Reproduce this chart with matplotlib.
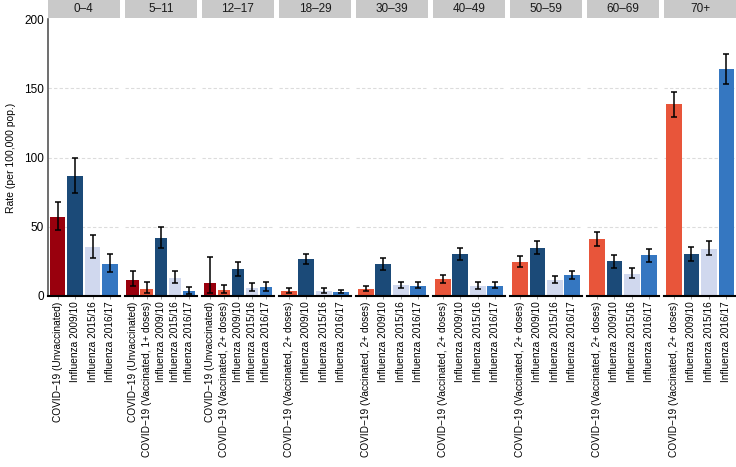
import numpy as np
import matplotlib.pyplot as plt

plt.rcParams['font.family'] = ['Liberation Sans', 'DejaVu Sans']

nan = np.nan

# age groups (facets)
ages = ["0–4", "5–11", "12–17", "18–29", "30–39", "40–49", "50–59", "60–69", "70+"]

# series names
series = ["COVID−19 (Unvaccinated)", "COVID−19 (Vaccinated, 1+ doses)",
          "COVID−19 (Vaccinated, 2+ doses)", "Influenza 2009/10",
          "Influenza 2015/16", "Influenza 2016/17"]

# rates per 100,000 and confidence bounds, one entry per age group
unvacc    = [57.0, 11.5, 9.4, nan, nan, nan, nan, nan, nan]
unvacc_lo = [47.4, 7.2, 2.0, nan, nan, nan, nan, nan, nan]
unvacc_hi = [68.0, 17.8, 27.9, nan, nan, nan, nan, nan, nan]

vacc1    = [nan, 5.3, nan, nan, nan, nan, nan, nan, nan]
vacc1_lo = [nan, 1.9, nan, nan, nan, nan, nan, nan, nan]
vacc1_hi = [nan, 10.3, nan, nan, nan, nan, nan, nan, nan]

vacc2    = [nan, nan, 4.3, 3.6, 5.0, 12.0, 24.5, 40.9, 138.5]
vacc2_lo = [nan, nan, 1.9, 2.2, 3.6, 9.1, 20.7, 35.8, 129.6]
vacc2_hi = [nan, nan, 7.7, 5.5, 7.0, 15.4, 28.6, 46.2, 147.4]

flu09    = [86.4, 41.8, 19.2, 26.5, 22.8, 30.3, 34.6, 25.0, 30.1]
flu09_lo = [74.3, 34.9, 14.4, 22.9, 19.0, 26.0, 30.3, 20.2, 25.3]
flu09_hi = [99.8, 49.8, 24.8, 30.5, 27.2, 34.6, 39.7, 29.8, 35.6]

flu15    = [35.1, 13.2, 5.8, 3.8, 7.7, 7.5, 11.5, 16.1, 33.9]
flu15_lo = [27.7, 9.1, 3.4, 2.4, 5.5, 5.0, 9.1, 13.0, 29.3]
flu15_hi = [43.8, 17.8, 9.6, 5.5, 10.3, 9.9, 14.4, 20.0, 39.4]

flu16    = [22.8, 3.4, 6.3, 2.9, 7.5, 7.5, 14.9, 29.4, 163.8]
flu16_lo = [17.1, 1.4, 3.8, 1.9, 5.5, 5.5, 12.0, 24.8, 153.4]
flu16_hi = [30.1, 6.3, 10.1, 4.6, 9.9, 10.1, 18.3, 33.9, 174.8]

vals = [unvacc, vacc1, vacc2, flu09, flu15, flu16]
los = [unvacc_lo, vacc1_lo, vacc2_lo, flu09_lo, flu15_lo, flu16_lo]
his = [unvacc_hi, vacc1_hi, vacc2_hi, flu09_hi, flu15_hi, flu16_hi]
colors = ["#99000d", "#e8553a", "#e8553a", "#1b4a78", "#d0d8ee", "#3577c1"]

W, H = 736, 467
fig = plt.figure(figsize=(W / 100, H / 100), dpi=100)

left, right = 48, 736
gap = 5.5
pw = (right - left - gap * 8) / 9
top, bottom = 19, 296
strip_top, strip_bot = 0, 18

for i, age in enumerate(ages):
    x0 = left + i * (pw + gap)
    ax = fig.add_axes([x0 / W, 1 - bottom / H, pw / W, (bottom - top) / H])

    labels, v, lo, hi, c = [], [], [], [], []
    for s in range(len(series)):
        if not np.isnan(vals[s][i]):
            labels.append(series[s])
            v.append(vals[s][i])
            lo.append(los[s][i])
            hi.append(his[s][i])
            c.append(colors[s])
    v, lo, hi = np.array(v), np.array(lo), np.array(hi)
    x = np.arange(len(v))

    for yg in [50, 100, 150]:
        ax.axhline(yg, color="#dcdcdc", lw=0.8, ls=(0, (3, 2)), zorder=0)
    ax.bar(x, v, width=0.9, color=c, edgecolor="none", zorder=2)
    ax.errorbar(x, v, yerr=[v - lo, hi - v], fmt="none", ecolor="black",
                elinewidth=1.1, capsize=2, capthick=1.1, zorder=3)

    ax.set_xlim(-0.55, len(v) - 0.45)
    ax.set_ylim(0, 200)
    ax.set_xticks(x)
    ax.set_xticklabels(labels, rotation=90, fontsize=7.3, color="black")
    ax.tick_params(axis="x", length=2, width=0.6, color="#888888", pad=2)
    for sp in ["top", "right"]:
        ax.spines[sp].set_visible(False)
    ax.spines["bottom"].set_linewidth(1.5)
    ax.spines["bottom"].set_color("black")
    if i == 0:
        ax.spines["left"].set_color("#555555")
        ax.spines["left"].set_linewidth(1.2)
        ax.set_yticks([0, 50, 100, 150, 200])
        ax.tick_params(axis="y", length=0, labelsize=8.5, pad=3)
        ax.set_ylabel("Rate (per 100,000 pop.)", fontsize=7.5, labelpad=6)
    else:
        ax.spines["left"].set_visible(False)
        ax.set_yticks([])

    sax = fig.add_axes([x0 / W, 1 - strip_bot / H, pw / W, (strip_bot - strip_top) / H])
    sax.set_facecolor("#c9c9c9")
    sax.set_xticks([])
    sax.set_yticks([])
    for sp in sax.spines.values():
        sp.set_visible(False)
    sax.text(0.5, 0.5, age, ha="center", va="center", fontsize=8.5,
             color="#1a1a1a", transform=sax.transAxes)

fig.savefig("out.png", dpi=100)
